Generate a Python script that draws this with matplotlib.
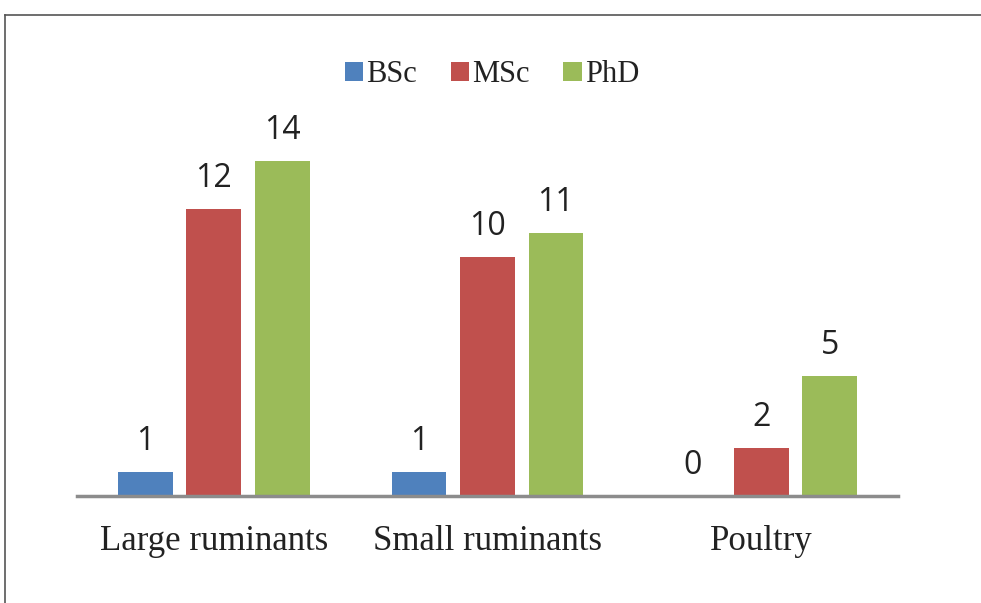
import numpy as np
import matplotlib.pyplot as plt
from matplotlib.lines import Line2D

# Дані
categories = ['Large ruminants', 'Small ruminants', 'Poultry']
series_names = ['BSc', 'MSc', 'PhD']
bsc = [1, 1, 0]
msc = [12, 10, 2]
phd = [14, 11, 5]
colors = ['#4F81BD', '#C0504D', '#9BBB59']

fig = plt.figure(figsize=(9.81, 6.03), dpi=100)
ax = fig.add_axes([77 / 981, 1 - 496 / 603, 821 / 981, 383 / 603])

x = np.arange(len(categories))
width = 0.2
offsets = [-0.25, 0, 0.25]

for vals, name, col, off in zip([bsc, msc, phd], series_names, colors, offsets):
    bars = ax.bar(x + off, vals, width, color=col, label=name)
    for b, v in zip(bars, vals):
        ax.annotate(str(v), (b.get_x() + b.get_width() / 2, v),
                    xytext=(0, 10), textcoords='offset points',
                    ha='center', va='bottom', fontsize=23,
                    family='Open Sans', color='#222222')

ax.set_xlim(-0.5, 2.5)
ax.set_ylim(0, 16)
ax.set_yticks([])
ax.set_xticks(x)
ax.set_xticklabels(categories, family='Liberation Serif', fontsize=25, color='#222222')
ax.tick_params(axis='x', length=0, pad=21)
for s in ['top', 'right', 'left']:
    ax.spines[s].set_visible(False)
ax.spines['bottom'].set_color('#8c8c8c')
ax.spines['bottom'].set_linewidth(2.5)

ax.legend(loc='center', bbox_to_anchor=(492 / 981, 1 - 75 / 603),
          bbox_transform=fig.transFigure, ncol=3, frameon=False,
          prop={'family': 'Liberation Serif', 'size': 22},
          handlelength=0.6, handleheight=0.6, handletextpad=0.1,
          columnspacing=1.1, labelcolor='#222222')

# Рамка
fig.add_artist(Line2D([5 / 981, 1], [1 - 15 / 603, 1 - 15 / 603],
                      color='#555555', lw=1.2, transform=fig.transFigure))
fig.add_artist(Line2D([5 / 981, 5 / 981], [0, 1 - 15 / 603],
                      color='#555555', lw=1.2, transform=fig.transFigure))

fig.savefig('out.png', dpi=100)
